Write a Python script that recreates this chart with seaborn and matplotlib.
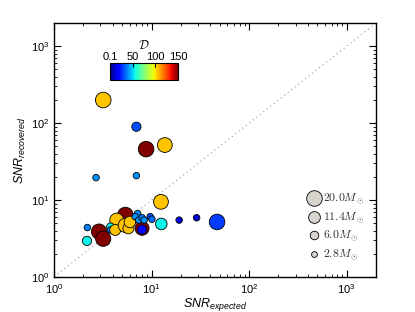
import numpy as np
import pandas as pd
import matplotlib
matplotlib.use('Agg')
import matplotlib.pyplot as plt
import matplotlib.ticker as mticker
import seaborn as sns
from matplotlib.colors import Normalize
from matplotlib.cm import ScalarMappable

# expected / recovered SNR, distance D (colour) and mass (marker size)
snr_expected = [3.2, 8.8, 13.7, 47.0, 2.9, 3.2, 12.5, 7.0, 2.7, 7.0,
                12.6, 19.2, 29.0, 2.18, 2.2, 5.4, 4.4, 3.8, 3.8, 4.25,
                5.4, 8.0, 5.8, 6.0, 8.0, 7.2, 6.8, 7.4, 8.0, 8.4, 9.7, 10.1]
snr_recovered = [200, 46, 52, 5.2, 3.9, 3.15, 9.5, 90, 19.6, 20.8,
                 4.9, 5.5, 5.9, 2.95, 4.4, 6.4, 5.5, 4.5, 4.1, 4.1,
                 4.7, 4.3, 4.3, 5.2, 4.15, 6.7, 6.1, 5.5, 5.9, 5.5, 6.1, 5.65]
dist_D = [105, 150, 105, 28, 150, 150, 105, 30, 40, 40,
          55, 12, 12, 55, 38, 150, 105, 55, 38, 105,
          105, 150, 105, 105, 20, 40, 40, 40, 38, 40, 30, 35]
mass = [20, 20, 18, 20, 19, 19, 18, 7, 3.5, 3.5,
        11, 3.5, 3.5, 7, 3.5, 20, 16, 5, 3.5, 10,
        17, 16, 10, 11, 7, 3.5, 3.5, 3.5, 3.5, 3.5, 3.5, 3.5]

legend_mass = [20.0, 11.4, 6.0, 2.8]
cbar_ticks = [0.1, 50, 100, 150]

df = pd.DataFrame({'exp': snr_expected, 'rec': snr_recovered, 'D': dist_D, 'm': mass})

plt.rcParams['font.family'] = ['Liberation Sans', 'DejaVu Sans']
plt.rcParams['mathtext.fontset'] = 'custom'
plt.rcParams['mathtext.rm'] = 'Liberation Sans'
plt.rcParams['mathtext.it'] = 'Liberation Sans:italic'
plt.rcParams['mathtext.bf'] = 'Liberation Sans:bold'
plt.rcParams['xtick.direction'] = 'in'
plt.rcParams['ytick.direction'] = 'in'
plt.rcParams['xtick.top'] = True
plt.rcParams['ytick.right'] = True
plt.rcParams['xtick.major.size'] = 5
plt.rcParams['ytick.major.size'] = 5
plt.rcParams['xtick.minor.size'] = 2.5
plt.rcParams['ytick.minor.size'] = 2.5

jet = matplotlib.colormaps['jet']
scale = 6.3  # marker area per solar mass

fig = plt.figure(figsize=(4.15, 3.12), dpi=100)
ax = fig.add_axes([0.130, 0.112, 0.776, 0.814])

ax.plot([1, 2000], [1, 2000], ls=(0, (1, 3)), color='#999999', lw=0.8, zorder=1)

sns.scatterplot(data=df, x='exp', y='rec', hue='D', size='m',
                palette=jet, hue_norm=(0.1, 150),
                sizes=(0, scale * 20), size_norm=(0, 20),
                edgecolor='black', linewidth=0.6, alpha=1,
                legend=False, ax=ax, zorder=3)

ax.set_xscale('log')
ax.set_yscale('log')
ax.set_xlim(1, 2000)
ax.set_ylim(1, 2000)
for axis in (ax.xaxis, ax.yaxis):
    axis.set_major_locator(mticker.LogLocator(base=10, numticks=10))
    axis.set_minor_locator(mticker.LogLocator(base=10, subs=np.arange(2, 10), numticks=20))
    axis.set_minor_formatter(mticker.NullFormatter())
ax.set_xlabel(r'$SNR_{expected}$', fontsize=9, labelpad=0)
ax.set_ylabel(r'$SNR_{recovered}$', fontsize=9, labelpad=2)
ax.tick_params(which='both', labelsize=8, color='black')
ax.tick_params(which='major', width=0.8)
ax.tick_params(which='minor', width=0.6)
for s in ax.spines.values():
    s.set_color('black')
    s.set_linewidth(1.0)

# size legend
handles = [ax.scatter([], [], s=scale * m, c='#d6d4cc', edgecolors='black', linewidths=0.6)
           for m in legend_mass]
labels = [r'$%.1fM_\odot$' % m for m in legend_mass]
leg = ax.legend(handles, labels, loc='upper left', bbox_to_anchor=(0.745, 0.37),
                frameon=False, fontsize=8.5, handletextpad=-0.2, labelspacing=0.35,
                borderpad=0.2)
for t in leg.get_texts():
    t.set_math_fontfamily('cm')
    t.set_color('#333333')

# colour bar
cax = fig.add_axes([0.265, 0.744, 0.164, 0.054])
sm = ScalarMappable(norm=Normalize(0.1, 150), cmap=jet)
cb = fig.colorbar(sm, cax=cax, orientation='horizontal', ticks=cbar_ticks)
cb.ax.xaxis.set_ticks_position('top')
cb.ax.xaxis.set_label_position('top')
cb.ax.set_xticklabels(['0.1', '50', '100', '150'])
cb.ax.tick_params(labelsize=8, direction='in', length=3, pad=1, bottom=False)
cb.outline.set_linewidth(0.8)
cb.set_label(r'$\mathcal{D}$', fontsize=9, labelpad=2, math_fontfamily='cm')

fig.savefig('out.png', dpi=100)
